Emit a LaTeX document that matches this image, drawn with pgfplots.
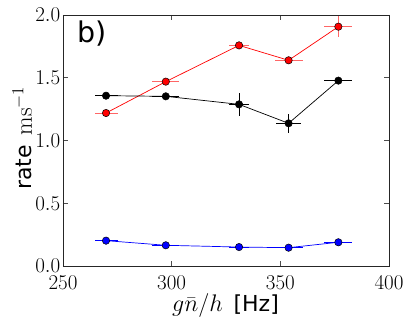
\RequirePackage{fix-cm}
\documentclass[border=0pt]{standalone}
\usepackage{fontspec}
\newfontfamily\dejavu{DejaVu Sans}
\usepackage{pgfplots}
\pgfplotsset{compat=1.18}
\begin{document}
\begin{tikzpicture}
\begin{axis}[
  name=ax,
  scale only axis,
  width=326pt, height=251pt,
  xmin=250, xmax=400, ymin=0, ymax=2.0,
  xtick={250,300,350,400},
  ytick={0,0.5,1.0,1.5,2.0},
  yticklabel style={/pgf/number format/fixed, /pgf/number format/fixed zerofill, /pgf/number format/precision=1, anchor=east, inner sep=0pt, xshift=-2.5pt},
  xticklabel style={anchor=north, inner sep=0pt, yshift=-9.7pt},
  tick align=inside,
  major tick length=5pt,
  tick style={black!70, line width=0.6pt},
  axis line style={line width=0.8pt, black!85},
  tick label style={font=\fontsize{21}{23}\selectfont},
  xlabel={$g\bar{n}/h$\hspace{0.45em}{\dejavu\fontsize{22}{24}\selectfont [Hz]}},
  ylabel={{\dejavu\fontsize{22}{24}\selectfont rate}\hspace{0.4em}$\mathrm{ms}^{-1}$},
  label style={font=\fontsize{24}{26}\selectfont, inner sep=0pt},
  xlabel style={at={(axis description cs:0.4985,-0.183)}, anchor=base},
  ylabel style={at={(axis description cs:-0.0951,0.51)}, anchor=base},
  every axis plot/.append style={line width=0.7pt},
]
\addplot[red, mark=*, mark size=3.7pt, mark options={fill=red, draw=black, line width=0.5pt},
  error bars/.cd, x dir=both, x explicit, y dir=both, y explicit, error mark=none,
  error bar style={red!60, line width=1pt}]
  table[x=x, y=y, x error=ex, y error=ey] {
x y ex ey
269.8 1.219 5.3 0.02
297.3 1.469 6.3 0.02
331.0 1.758 4.8 0.03
353.8 1.639 6.4 0.03
376.7 1.907 6.5 0.082
};
\addplot[black, mark=*, mark size=3.7pt, mark options={fill=black, draw=black, line width=0.5pt},
  error bars/.cd, x dir=both, x explicit, y dir=both, y explicit, error mark=none,
  error bar style={black, line width=1pt}]
  table[x=x, y=y, x error=ex, y error=ey] {
x y ex ey
269.8 1.357 5.3 0.01
297.3 1.352 6.3 0.01
331.0 1.288 4.8 0.093
353.8 1.137 5.9 0.076
376.7 1.477 6.5 0.01
};
\addplot[blue, mark=*, mark size=3.7pt, mark options={fill=blue, draw=black, line width=0.5pt},
  error bars/.cd, x dir=both, x explicit, y dir=both, y explicit, error mark=none,
  error bar style={blue, line width=1pt}]
  table[x=x, y=y, x error=ex, y error=ey] {
x y ex ey
269.8 0.202 5.3 0.005
297.3 0.165 6.3 0.005
331.0 0.151 4.8 0.005
353.8 0.146 6.4 0.005
376.7 0.189 6.5 0.005
};
\node[anchor=base west, font=\dejavu\fontsize{28.5}{30}\selectfont, inner sep=0pt] at (rel axis cs:0.0445,0.8924) {b)};
\end{axis}
\pgfresetboundingbox
\path[use as bounding box] ([shift={(-63pt,-65pt)}]ax.south west) rectangle ([shift={(20pt,15pt)}]ax.north east);
\end{tikzpicture}
\end{document}
